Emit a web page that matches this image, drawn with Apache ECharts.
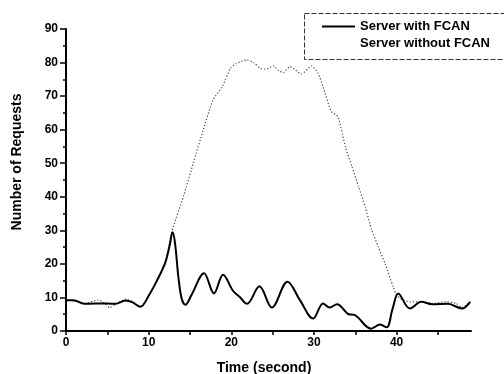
<!DOCTYPE html>
<html>
<head>
<meta charset="utf-8">
<script src="https://cdn.jsdelivr.net/npm/echarts@6/dist/echarts.min.js"></script>
<style>html,body{margin:0;padding:0;background:#fff;}#c{width:504px;height:374px;}</style>
</head>
<body>
<div id="c"></div>
<script>
// Server with FCAN (time in s, number of requests)
var fcanT = [0,0.9,2.2,3.5,5.0,6.0,7.2,8.0,9.0,10.0,11.0,12.0,12.5,12.9,13.2,13.6,14.0,14.45,15.2,16.7,17.9,19.0,20.2,21.0,21.9,23.4,24.9,26.8,28.3,29.9,31.1,31.9,32.8,34.2,34.9,36.9,38.0,38.8,39.5,40.2,41.6,43.0,44.3,46.2,47.9,48.9];
var fcanV = [9.2,9.2,8.1,8.2,8.2,8.1,9.1,8.6,7.2,10.5,15.0,20.3,25,29.4,26,16,9.6,7.8,10.8,17.2,11.2,16.8,12.0,10.2,8.1,13.3,7.0,14.7,9.2,3.7,8.2,7.0,8.0,5.0,4.8,0.7,1.9,1.1,6.5,11.2,6.7,8.7,8.0,8.1,6.7,8.7];
// Server without FCAN
var noFcanT = [0,1,2.2,3.9,4.5,5.3,6.0,7.2,8.0,9.0,10.0,11.0,12.0,12.8,14.2,15.4,16.6,17.8,18.9,19.9,20.5,21.9,22.7,23.5,24.1,25.1,25.7,26.3,27.1,28.5,29.7,30.5,31.1,32.1,32.9,33.8,34.6,35.4,36.2,37.0,37.8,38.6,39.6,39.9,40.4,41.6,43.0,44.3,46.0,47.2,47.9,48.9];
var noFcanV = [9.2,9.0,8.2,9.2,8.6,7.0,8.0,9.5,8.9,7.2,10.5,15.0,20.3,29.6,40,50,59.9,68.9,72.8,78.3,79.6,80.8,80,78.3,78,79,77.6,77,78.8,76.6,79,76.8,72.8,65.4,63.9,54.9,49,43,37,30,25,20.1,13.1,11.2,9.7,8.7,8.7,8.2,8.7,8.2,7.0,8.7];
var xTickLabels = [0,10,20,30,40];
var xTicks = [0,5,10,15,20,25,30,35,40,45];
var seriesNames = ['Server with FCAN','Server without FCAN'];

function pairs(t, v){ return t.map(function(x,i){ return [x, v[i]]; }); }

var chart = echarts.init(document.getElementById('c'), null, {renderer:'canvas'});
var font = 'Liberation Sans, Arial, sans-serif';
chart.setOption({
  animation:false,
  backgroundColor:'#fff',
  grid:{left:66, right:33, top:29, bottom:43, containLabel:false},
  xAxis:{
    type:'value', min:0, max:49,
    axisLine:{show:true, onZero:false, lineStyle:{color:'#000', width:2}},
    axisTick:{show:true, length:4, customValues:xTicks, lineStyle:{color:'#000', width:1.5}},
    axisLabel:{customValues:xTickLabels, margin:6, color:'#000', fontSize:12, fontWeight:'bold', fontFamily:font},
    splitLine:{show:false}
  },
  yAxis:{
    type:'value', min:0, max:90, interval:10,
    axisLine:{show:true, onZero:false, lineStyle:{color:'#000', width:2}},
    axisTick:{show:true, length:6, lineStyle:{color:'#000', width:1.5}},
    minorTick:{show:true, splitNumber:2, length:3, lineStyle:{color:'#000', width:1.5}},
    axisLabel:{margin:8, color:'#000', fontSize:12, fontWeight:'bold', fontFamily:font},
    splitLine:{show:false}
  },
  legend:{
    left:304, top:13, orient:'vertical',
    padding:[7,20,7,17], itemGap:4, itemWidth:33, itemHeight:14,
    textStyle:{color:'#000', fontSize:13, fontWeight:'bold', fontFamily:font},
    data:[
      {name:seriesNames[0], itemStyle:{opacity:0}},
      {name:seriesNames[1], itemStyle:{opacity:0}, lineStyle:{opacity:0}}
    ]
  },
  graphic:[
    {type:'rect', shape:{x:304.5, y:13.5, width:230, height:46}, style:{fill:'none', stroke:'#333', lineWidth:1, lineDash:[5,2]}, silent:true},
    {type:'text', x:17, y:162, rotation:Math.PI/2, style:{text:'Number of Requests', fill:'#000', font:'bold 14px Liberation Sans, Arial, sans-serif', align:'center', verticalAlign:'middle'}},
    {type:'text', x:264, y:368, style:{text:'Time (second)', fill:'#000', font:'bold 14px Liberation Sans, Arial, sans-serif', align:'center', verticalAlign:'middle'}}
  ],
  series:[
    {name:seriesNames[1], type:'line', data:pairs(noFcanT, noFcanV), symbol:'none', smooth:0.2,
     itemStyle:{color:'#444'}, lineStyle:{color:'#444', width:1.2, type:[1.2,2]}, z:2},
    {name:seriesNames[0], type:'line', data:pairs(fcanT, fcanV), symbol:'none', smooth:0.35,
     itemStyle:{color:'#000'}, lineStyle:{color:'#000', width:2}, z:3}
  ]
});
</script>
</body>
</html>
